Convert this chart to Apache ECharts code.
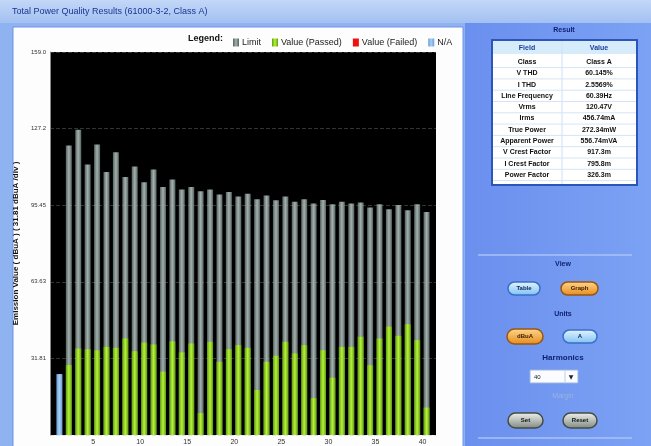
<!DOCTYPE html>
<html>
<head>
<meta charset="utf-8">
<script src="https://cdn.jsdelivr.net/npm/echarts@6/dist/echarts.min.js"></script>
<style>
html,body{margin:0;padding:0;background:#8fb2f1;}
#main{width:651px;height:446px;}
</style>
</head>
<body>
<div id="main"></div>
<script>
// harmonic order 1..40
var harmonics=[1,2,3,4,5,6,7,8,9,10,11,12,13,14,15,16,17,18,19,20,21,22,23,24,25,26,27,28,29,30,31,32,33,34,35,36,37,38,39,40];
// limit (gray), no limit on the fundamental
var limitVals=[null,120.2,126.8,112.3,120.6,109.2,117.4,107.1,111.5,105.0,110.3,103.0,106.1,102.0,103.0,101.2,102.0,99.9,100.9,99.0,100.2,97.9,99.5,97.5,99.0,96.9,97.9,96.1,97.6,95.8,96.9,96.1,96.5,94.5,95.8,93.8,95.5,93.3,95.8,92.6];
// measured value (passed), fundamental is N/A
var passedVals=[null,29.0,35.9,35.6,35.2,36.6,36.2,40.1,34.8,38.4,37.6,26.3,38.9,34.3,38.0,9.1,38.7,30.4,35.6,37.3,36.2,18.7,30.4,32.9,38.7,33.9,37.3,15.3,35.2,23.8,36.6,36.6,40.8,29.0,40.1,45.0,41.2,46.0,39.4,11.4];
var failedVals=[];
var naVals=[25.3];
var yTickLabels=['','31.81','63.63','95.45','127.2','159.0'];
var xTickLabels=['5','10','15','20','25','30','35','40'];

var tableFields=['Class','V THD','I THD','Line Frequency','Vrms','Irms','True Power','Apparent Power','V Crest Factor','I Crest Factor','Power Factor'];
var tableValues=['Class A','60.145%','2.5569%','60.39Hz','120.47V','456.74mA','272.34mW','556.74mVA','917.3m','795.8m','326.3m'];

function pairs(vals){
    var out=[];
    $each(vals,function(i,v){ if(v!=null) out.push([harmonics[i],v]); });
    return out;
}
function $each(arr,fn){ for(var i=0;i<arr.length;i++) fn(i,arr[i]); }

function barGrad(edge,mid){
    return new echarts.graphic.LinearGradient(0,0,1,0,[
        {offset:0,color:edge},{offset:0.5,color:mid},{offset:1,color:edge}]);
}
function pill(x,y,w,h,c1,c2,stroke,label,tc){
    return {type:'group',z:10,children:[
        {type:'rect',shape:{x:x,y:y,width:w,height:h,r:h/2},
         style:{fill:new echarts.graphic.LinearGradient(0,0,0,1,[{offset:0,color:c1},{offset:1,color:c2}]),stroke:stroke,lineWidth:1.5}},
        {type:'text',style:{x:x+w/2,y:y+h/2,text:label,align:'center',verticalAlign:'middle',
         font:'bold 6px "Liberation Sans"',fill:tc}}
    ]};
}

var graphics=[];
// backgrounds
graphics.push({type:'rect',z:-5,shape:{x:0,y:0,width:651,height:446},style:{fill:'#8fb2f1'}});
graphics.push({type:'rect',z:-5,shape:{x:0,y:0,width:651,height:23},
    style:{fill:new echarts.graphic.LinearGradient(0,0,0,1,[{offset:0,color:'#c3d8f8'},{offset:1,color:'#a2c0f2'}])}});
graphics.push({type:'text',z:-4,style:{x:12,y:12,text:'Total Power Quality Results (61000-3-2, Class A)',
    verticalAlign:'middle',font:'9px "Liberation Sans"',fill:'#1a3590'}});
graphics.push({type:'rect',z:-5,shape:{x:13,y:27,width:450,height:430},style:{fill:'#fdfdfd',stroke:'#6f93e6',lineWidth:1}});
graphics.push({type:'rect',z:-5,shape:{x:465,y:23,width:186,height:423},
    style:{fill:new echarts.graphic.LinearGradient(0,0,1,0,[{offset:0,color:'#6a8fee'},{offset:1,color:'#7ca2f4'}])}});
graphics.push({type:'text',z:5,style:{x:188,y:39,text:'Legend:',verticalAlign:'middle',font:'bold 9px "Liberation Sans"',fill:'#111'}});

// result table
graphics.push({type:'text',z:10,style:{x:564,y:30,text:'Result',align:'center',verticalAlign:'middle',font:'bold 7px "Liberation Sans"',fill:'#0d1f6e'}});
graphics.push({type:'rect',z:9,shape:{x:492,y:40,width:145,height:145},style:{fill:'#fff',stroke:'#2b55b8',lineWidth:2}});
graphics.push({type:'rect',z:9,shape:{x:493,y:41,width:143,height:13},style:{fill:'#d6ecfb'}});
graphics.push({type:'text',z:10,style:{x:527,y:48,text:'Field',align:'center',verticalAlign:'middle',font:'bold 7px "Liberation Sans"',fill:'#1b3d9c'}});
graphics.push({type:'text',z:10,style:{x:599,y:48,text:'Value',align:'center',verticalAlign:'middle',font:'bold 7px "Liberation Sans"',fill:'#1b3d9c'}});
graphics.push({type:'line',z:10,shape:{x1:562,y1:41,x2:562,y2:184},style:{stroke:'#cfe0f5',lineWidth:1}});
$each(tableFields,function(i,f){
    var cy=62+i*11.3;
    graphics.push({type:'line',z:10,shape:{x1:493,y1:cy+5.6,x2:636,y2:cy+5.6},style:{stroke:'#d5e4f6',lineWidth:1}});
    graphics.push({type:'text',z:10,style:{x:527,y:cy,text:f,align:'center',verticalAlign:'middle',font:'bold 7px "Liberation Sans"',fill:'#111'}});
    graphics.push({type:'text',z:10,style:{x:599,y:cy,text:tableValues[i],align:'center',verticalAlign:'middle',font:'bold 7px "Liberation Sans"',fill:'#111'}});
});

// controls
graphics.push({type:'line',z:10,shape:{x1:478,y1:255,x2:632,y2:255},style:{stroke:'#a9c3f6',lineWidth:1.5}});
graphics.push({type:'line',z:10,shape:{x1:478,y1:438,x2:632,y2:438},style:{stroke:'#a9c3f6',lineWidth:1.5}});
graphics.push({type:'text',z:10,style:{x:563,y:264,text:'View',align:'center',verticalAlign:'middle',font:'bold 7px "Liberation Sans"',fill:'#0d1f6e'}});
graphics.push(pill(508,282,32,13,'#e6f6ff','#7cc0f2','#3a6fc8','Table','#10205a'));
graphics.push(pill(561,282,37,13,'#ffd890','#e58a18','#9a5510','Graph','#3a1800'));
graphics.push({type:'text',z:10,style:{x:563,y:314,text:'Units',align:'center',verticalAlign:'middle',font:'bold 7px "Liberation Sans"',fill:'#0d1f6e'}});
graphics.push(pill(507,329,36,15,'#ffd890','#e58a18','#9a5510','dBuA','#3a1800'));
graphics.push(pill(563,330,34,13,'#e6f6ff','#7cc0f2','#3a6fc8','A','#10205a'));
graphics.push({type:'text',z:10,style:{x:563,y:358,text:'Harmonics',align:'center',verticalAlign:'middle',font:'bold 8px "Liberation Sans"',fill:'#0d1f6e'}});
graphics.push({type:'rect',z:10,shape:{x:530,y:370,width:48,height:13},style:{fill:'#fafcff',stroke:'#9db4dc',lineWidth:1}});
graphics.push({type:'line',z:10,shape:{x1:565,y1:371,x2:565,y2:382},style:{stroke:'#c0cfe8',lineWidth:1}});
graphics.push({type:'text',z:10,style:{x:534,y:377,text:'40',verticalAlign:'middle',font:'6px "Liberation Sans"',fill:'#222'}});
graphics.push({type:'text',z:10,style:{x:571,y:377,text:'▼',align:'center',verticalAlign:'middle',font:'6px "DejaVu Sans"',fill:'#222'}});
graphics.push({type:'text',z:10,style:{x:563,y:396,text:'Margin',align:'center',verticalAlign:'middle',font:'7px "Liberation Sans"',fill:'#9cb2e0'}});
graphics.push(pill(508,413,35,15,'#f2f4f0','#7d877f','#454c46','Set','#111'));
graphics.push(pill(563,413,34,15,'#f2f4f0','#7d877f','#454c46','Reset','#111'));

var myChart=echarts.init(document.getElementById('main'));
var option={
    animation:false,
    graphic:graphics,
    legend:{
        left:228,top:33,itemWidth:6,itemHeight:8,itemGap:11,
        icon:'rect',
        data:['Limit','Value (Passed)','Value (Failed)','N/A'],
        textStyle:{fontSize:9,color:'#222',fontFamily:'Liberation Sans',padding:[0,0,0,-2]}
    },
    grid:{left:50,top:52,width:386,height:385,show:true,backgroundColor:'#000',borderWidth:0},
    xAxis:{
        type:'value',min:0,max:41,interval:5,
        axisLine:{show:false},axisTick:{show:false},splitLine:{show:false},
        axisLabel:{fontSize:7,color:'#333',margin:4,padding:[0,8,0,0],
            formatter:function(v){ return v===0?'':xTickLabels[v/5-1]; }}
    },
    yAxis:{
        type:'value',min:0,max:159.05,interval:31.81,z:5,
        name:'Emission Value ( dBuA ) ( 31.81 dBuA /div )',
        nameLocation:'middle',nameGap:28,
        nameTextStyle:{fontSize:8,fontWeight:'bold',color:'#111',fontFamily:'Liberation Sans'},
        axisLine:{show:true,lineStyle:{color:'#888'}},
        axisTick:{show:false},
        splitLine:{show:true,lineStyle:{color:'rgba(170,170,170,0.3)',type:'dashed',width:1}},
        axisLabel:{fontSize:6,color:'#333',margin:4,
            formatter:function(v,i){ return yTickLabels[i]||''; }}
    },
    series:[
        {name:'Limit',type:'bar',barWidth:6,barGap:'-100%',
         itemStyle:{color:barGrad('#56625f','#a3b1ae')},data:pairs(limitVals)},
        {name:'Value (Passed)',type:'bar',barWidth:6,barGap:'-100%',
         itemStyle:{color:barGrad('#5f9e0c','#b8f23c')},data:pairs(passedVals)},
        {name:'Value (Failed)',type:'bar',barWidth:6,barGap:'-100%',
         itemStyle:{color:'#ee1111'},data:failedVals},
        {name:'N/A',type:'bar',barWidth:6,barGap:'-100%',
         itemStyle:{color:barGrad('#6a9ed6','#a8d0f4')},data:[[harmonics[0],naVals[0]]]}
    ]
};
myChart.setOption(option);
</script>
</body>
</html>
